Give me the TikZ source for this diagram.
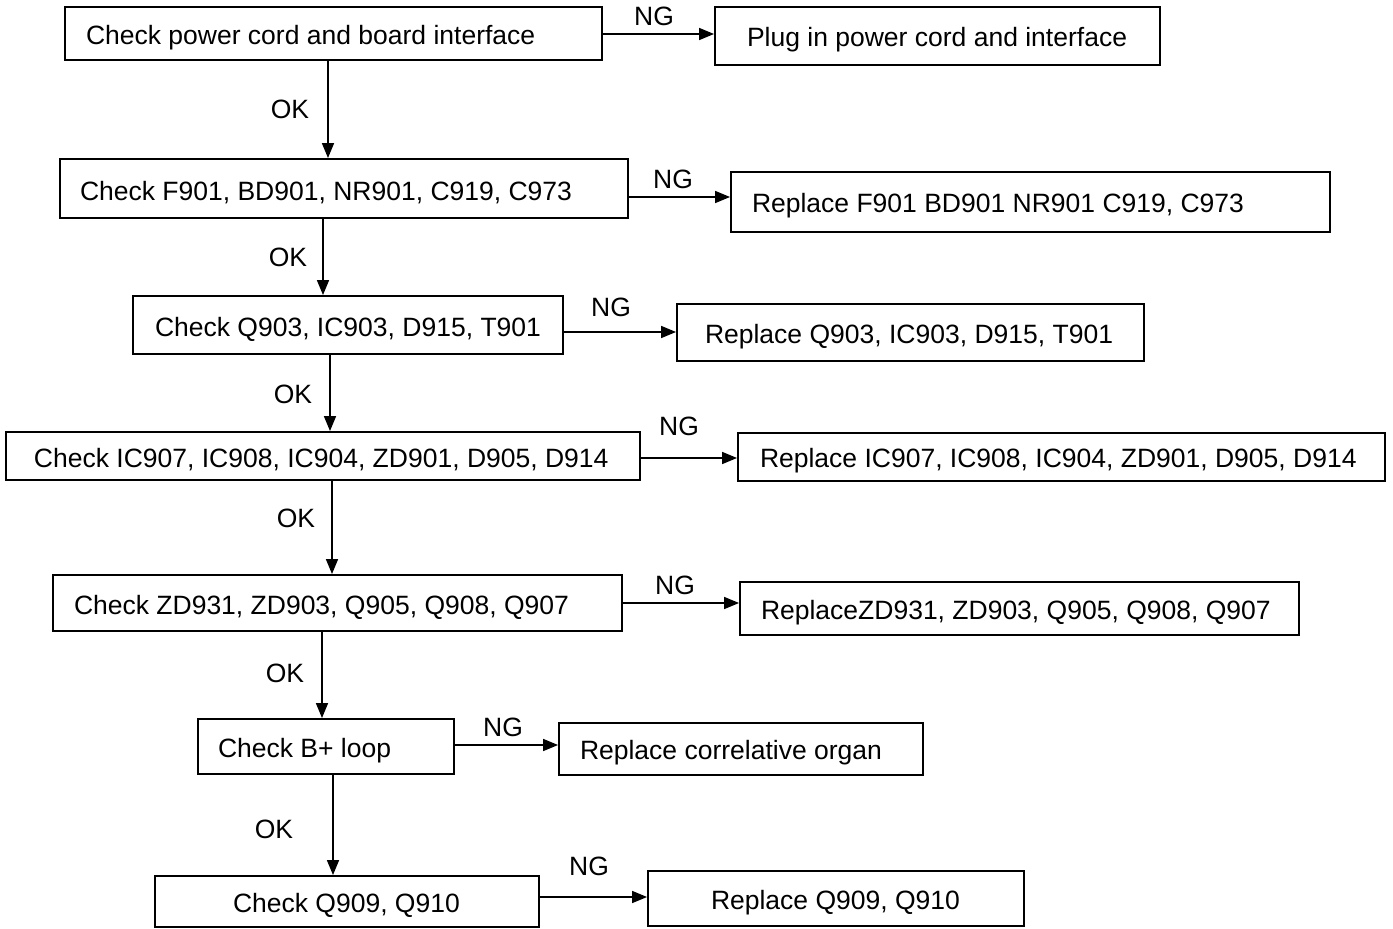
\documentclass[tikz,border=0pt]{standalone}
\usepackage{fontspec}
\setmainfont{Liberation Sans}
\usetikzlibrary{arrows.meta}
\newcommand\txtstrut{\rule[-3pt]{0pt}{30pt}}
\newcommand\bt[3]{\makebox[#1][l]{\hspace*{#2}\txtstrut #3}}
\begin{document}
\begin{tikzpicture}[x=1pt,y=-1pt,
  font=\fontsize{26.5}{30}\selectfont,
  box/.style={draw, line width=1.9pt, inner sep=0pt},
  arr/.style={line width=1.6pt, -{Triangle[length=15pt,width=12pt]}},
  lbl/.style={inner sep=0pt}]
\useasboundingbox (0,0) rectangle (1393,929);
% left column
\node[box, minimum width=537pt, minimum height=53pt] (L1) at (333.5,33.5) {\bt{537pt}{21pt}{Check power cord and board interface}};
\node[box, minimum width=568pt, minimum height=59pt] (L2) at (344,188.5) {\bt{568pt}{20pt}{Check F901, BD901, NR901, C919, C973}};
\node[box, minimum width=430pt, minimum height=58pt] (L3) at (348,325) {\bt{430pt}{22pt}{Check Q903, IC903, D915, T901}};
\node[box, minimum width=634pt, minimum height=48pt] (L4) at (323,456) {\bt{634pt}{28pt}{Check IC907, IC908, IC904, ZD901, D905, D914}};
\node[box, minimum width=569pt, minimum height=56pt] (L5) at (337.5,603) {\bt{569pt}{21pt}{Check ZD931, ZD903, Q905, Q908, Q907}};
\node[box, minimum width=256pt, minimum height=55pt] (L6) at (326,746.5) {\bt{256pt}{20pt}{Check B+ loop}};
\node[box, minimum width=384pt, minimum height=51pt] (L7) at (347,901.5) {\bt{384pt}{78pt}{Check Q909, Q910}};
% right column
\node[box, minimum width=445pt, minimum height=58pt] (R1) at (937.5,36) {\bt{445pt}{32pt}{Plug in power cord and interface}};
\node[box, minimum width=599pt, minimum height=60pt] (R2) at (1030.5,202) {\bt{599pt}{21pt}{Replace F901 BD901 NR901 C919, C973}};
\node[box, minimum width=467pt, minimum height=57pt] (R3) at (910.5,332.5) {\bt{467pt}{28pt}{Replace Q903, IC903, D915, T901}};
\node[box, minimum width=647pt, minimum height=48pt] (R4) at (1061.5,457) {\bt{647pt}{22pt}{Replace IC907, IC908, IC904, ZD901, D905, D914}};
\node[box, minimum width=559pt, minimum height=53pt] (R5) at (1019.5,608.5) {\bt{559pt}{21pt}{ReplaceZD931, ZD903, Q905, Q908, Q907}};
\node[box, minimum width=364pt, minimum height=52pt] (R6) at (741,749) {\bt{364pt}{21pt}{Replace correlative organ}};
\node[box, minimum width=376pt, minimum height=55pt] (R7) at (836,898.5) {\bt{376pt}{63pt}{Replace Q909, Q910}};
% NG arrows
\draw[arr] (L1.east |- 0,34) -- (R1.west |- 0,34);
\draw[arr] (L2.east |- 0,197) -- (R2.west |- 0,197);
\draw[arr] (L3.east |- 0,332) -- (R3.west |- 0,332);
\draw[arr] (L4.east |- 0,458) -- (R4.west |- 0,458);
\draw[arr] (L5.east |- 0,603) -- (R5.west |- 0,603);
\draw[arr] (L6.east |- 0,745) -- (R6.west |- 0,745);
\draw[arr] (L7.east |- 0,897) -- (R7.west |- 0,897);
\node[lbl] (ng1) at (654,16) {NG};
\node[lbl] (ng2) at (673,179) {NG};
\node[lbl] (ng3) at (611,307) {NG};
\node[lbl] (ng4) at (679,426) {NG};
\node[lbl] (ng5) at (675,585) {NG};
\node[lbl] (ng6) at (503,727) {NG};
\node[lbl] (ng7) at (589,866) {NG};
% OK arrows
\draw[arr] (L1.south -| 328,0) -- (L2.north -| 328,0);
\draw[arr] (L2.south -| 323,0) -- (L3.north -| 323,0);
\draw[arr] (L3.south -| 330,0) -- (L4.north -| 330,0);
\draw[arr] (L4.south -| 332,0) -- (L5.north -| 332,0);
\draw[arr] (L5.south -| 322,0) -- (L6.north -| 322,0);
\draw[arr] (L6.south -| 333,0) -- (L7.north -| 333,0);
\node[lbl] (ok1) at (290,109) {OK};
\node[lbl] (ok2) at (288,257) {OK};
\node[lbl] (ok3) at (293,394) {OK};
\node[lbl] (ok4) at (296,518) {OK};
\node[lbl] (ok5) at (285,673) {OK};
\node[lbl] (ok6) at (274,829) {OK};
\end{tikzpicture}
\end{document}
